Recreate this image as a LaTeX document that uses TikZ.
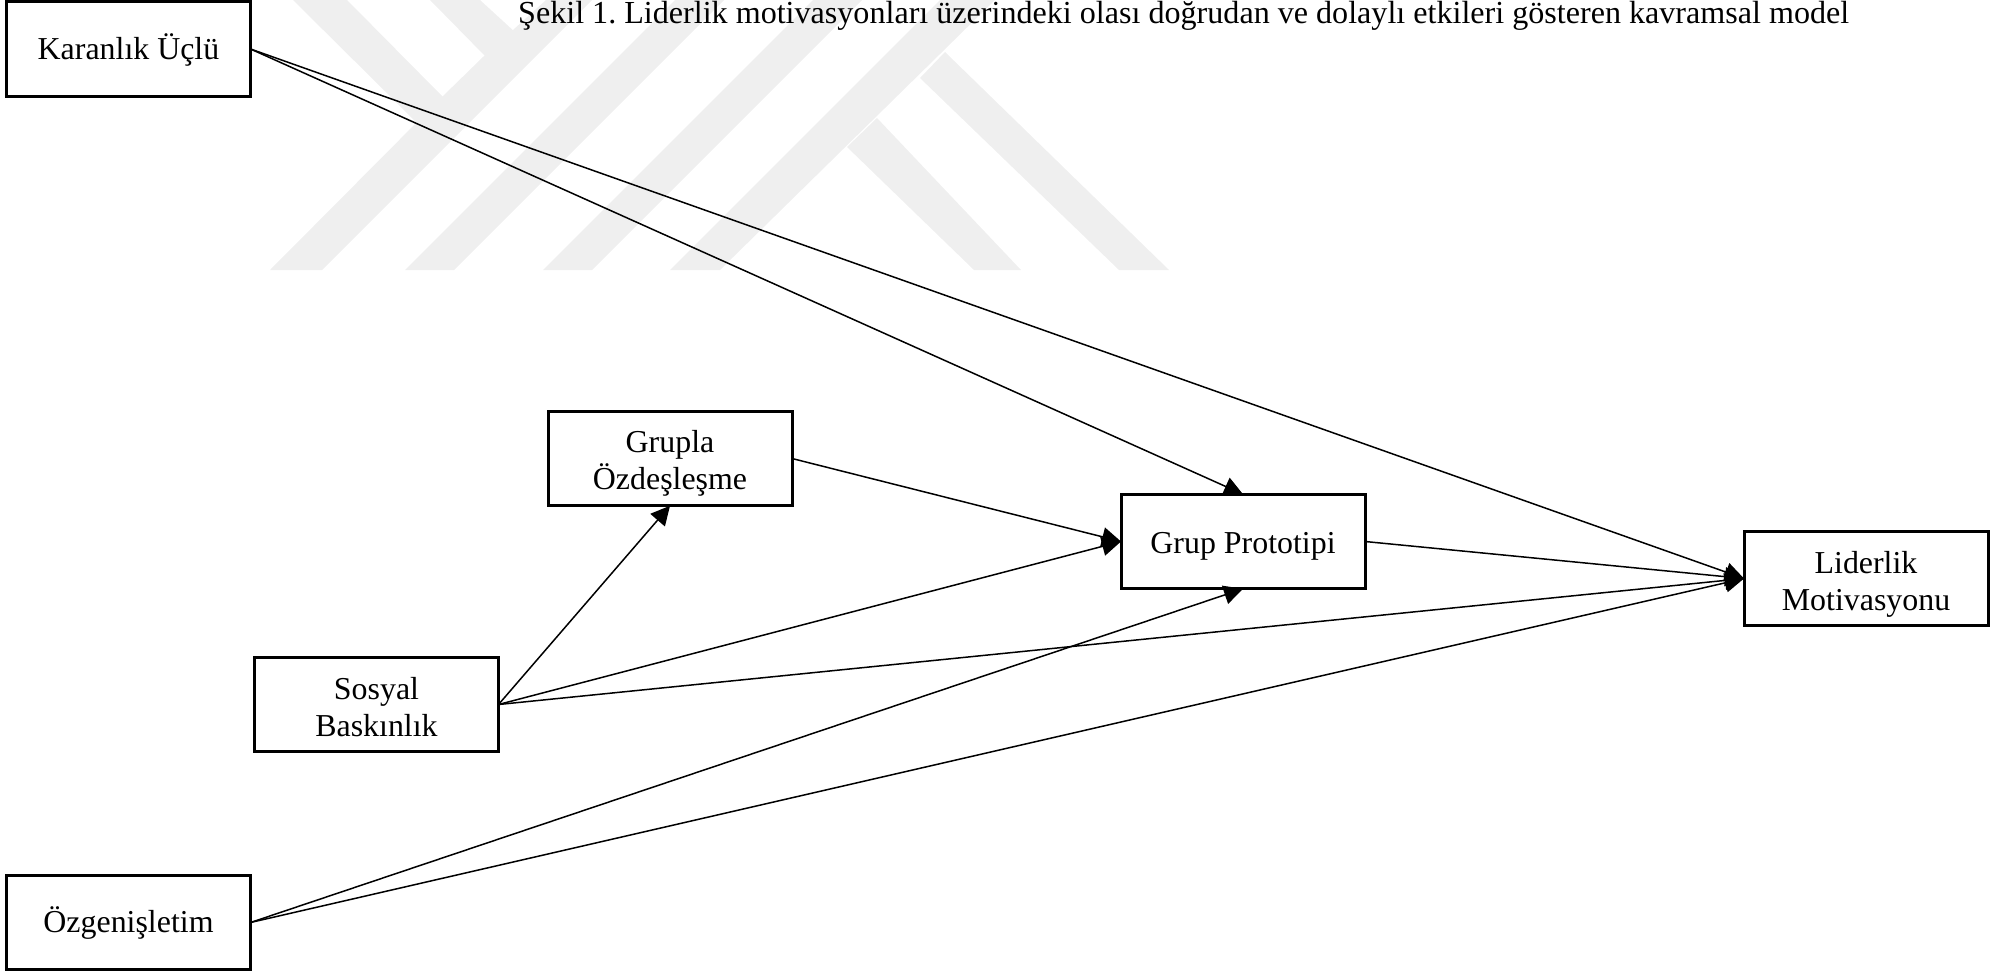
\documentclass[tikz,border=0pt]{standalone}
\usepackage{fontspec}
\setmainfont{Liberation Serif}
\usetikzlibrary{arrows.meta}
\definecolor{wm}{HTML}{EFEFEF}
\tikzset{
  varbox/.style={draw=black, line width=3pt, fill=none, outer sep=0pt, inner sep=0pt,
    minimum width=244pt, minimum height=94.5pt},
  boxtext/.style={align=center, inner sep=0pt, font=\fontsize{31.9}{36.7}\selectfont},
  link/.style={draw=black, line width=1.5pt, -{Triangle[length=19pt,width=19pt]}},
  wmshape/.style={fill=wm, draw=none},
  titletext/.style={anchor=base west, inner sep=0pt, font=\fontsize{32.1}{36.7}\selectfont}
}
\begin{document}
\frenchspacing
\begin{tikzpicture}[x=1pt,y=-1pt]
\useasboundingbox (0,0) rectangle (2004,971);
% watermark
\fill[wmshape] (270,270) -- (322,270) -- (592,0) -- (546,0) -- (513,30) -- (483,57) -- (442,97) -- cycle;
\fill[wmshape] (293,0) -- (347,0) -- (443,97) -- (417,123) -- cycle;
\fill[wmshape] (430,0) -- (480,0) -- (516,33) -- (486,57) -- cycle;
\fill[wmshape] (405,270) -- (454,270) -- (724,0) -- (675,0) -- cycle;
\fill[wmshape] (543,270) -- (592,270) -- (862,0) -- (813,0) -- cycle;
\fill[wmshape] (670,270) -- (720,270) -- (995,0) -- (940,0) -- cycle;
\fill[wmshape] (847,147) -- (877,118) -- (1021,270) -- (974,270) -- cycle;
\fill[wmshape] (920,78) -- (945,52) -- (1169,270) -- (1119,270) -- cycle;
% title
\node[titletext] (title) at (518,24) {Şekil 1. Liderlik motivasyonları üzerindeki olası doğrudan ve dolaylı etkileri gösteren kavramsal model};
% nodes
\node[varbox, label={[boxtext,yshift=-0.5pt,name=Kt]center:{Karanlık Üçlü}}] (K) at (128.5,49) {};
\node[varbox, label={[boxtext,yshift=-5pt,name=Gt]center:{Grupla\\Özdeşleşme}}] (G) at (670,458.5) {};
\node[varbox, label={[boxtext,yshift=-2.5pt,name=St]center:{Sosyal\\Baskınlık}}] (S) at (376.5,704.5) {};
\node[varbox, label={[boxtext,yshift=-0.5pt,name=Ot]center:{Özgenişletim}}] (O) at (128.5,922.5) {};
\node[varbox, label={[boxtext,yshift=-4.5pt,name=Pt]center:{Grup Prototipi}}] (P) at (1243,541.5) {};
\node[varbox, label={[boxtext,yshift=-6pt,name=Lt]center:{Liderlik\\Motivasyonu}}] (L) at (1866,578.5) {};
% connectors
\draw[link] (K.east) -- (P.north);
\draw[link] (K.east) -- (L.west);
\draw[link] (G.east) -- (P.west);
\draw[link] (S.east) -- (G.south);
\draw[link] (S.east) -- (P.west);
\draw[link] (S.east) -- (L.west);
\draw[link] (O.east) -- (P.south);
\draw[link] (O.east) -- (L.west);
\draw[link] (P.east) -- (L.west);
\end{tikzpicture}
\end{document}
